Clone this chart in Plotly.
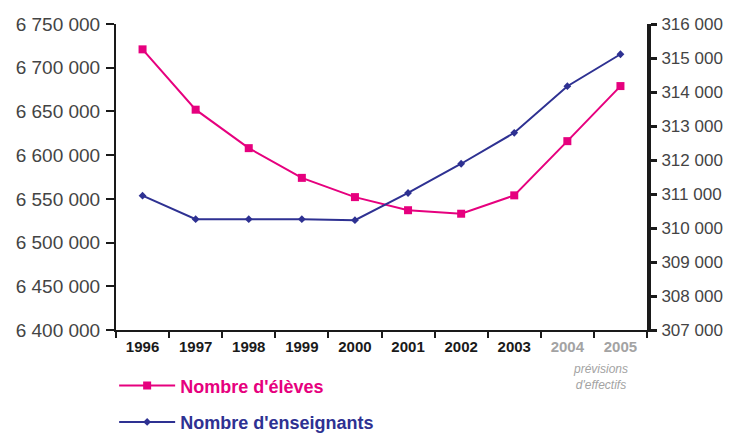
import plotly.graph_objects as go

annees = ["1996", "1997", "1998", "1999", "2000", "2001", "2002", "2003", "2004", "2005"]
eleves = [6721000, 6652000, 6608000, 6574000, 6552000, 6537000, 6533000, 6554000, 6616000, 6679000]
enseignants = [310950, 310260, 310260, 310260, 310230, 311030, 311890, 312800, 314170, 315110]
previsions = ["2004", "2005"]

ROSE = "#e6007e"
MARINE = "#2e3192"
GRIS = "#a3a3a3"
FONT = "Liberation Sans, Arial, sans-serif"

ticktext = [f"<span style='color:{GRIS}'>{a}</span>" if a in previsions else a for a in annees]

fig = go.Figure()
fig.add_trace(go.Scatter(
    x=annees, y=eleves, name=f"<b><span style='color:{ROSE}'>Nombre d'élèves</span></b>",
    mode="lines+markers", line=dict(color=ROSE, width=2),
    marker=dict(symbol="square", size=8, color=ROSE),
    yaxis="y", legendgroup="a"))
fig.add_trace(go.Scatter(
    x=annees, y=enseignants, name=f"<b><span style='color:{MARINE}'>Nombre d'enseignants</span></b>",
    mode="lines+markers", line=dict(color=MARINE, width=2),
    marker=dict(symbol="diamond", size=6, color=MARINE),
    yaxis="y2", legendgroup="b"))

fig.add_annotation(x=8.62, xref="x", y=-0.154, yref="paper", yanchor="middle",
                   text="<i>prévisions<br>d'effectifs</i>", showarrow=False,
                   font=dict(family=FONT, size=12, color=GRIS))

# the page body adds an 8px margin, keep the figure inside the window
fig.update_layout(
    width=726, height=429,
    margin=dict(l=108, r=87, t=16, b=107, autoexpand=False),
    plot_bgcolor="white", paper_bgcolor="white",
    separators=", ",
    font=dict(family=FONT, color="#333333"),
    showlegend=True,
    legend=dict(x=-0.0035, y=-0.122, xanchor="left", yanchor="top",
                font=dict(family=FONT, size=18), tracegroupgap=10,
                traceorder="grouped", itemwidth=56, bgcolor="rgba(0,0,0,0)"),
    xaxis=dict(type="category", tickvals=annees, ticktext=ticktext,
               range=[-0.5, 9.5], showgrid=False, automargin=False,
               showline=True, linecolor="#1a1a1a", linewidth=2,
               ticks="outside", tickson="boundaries", ticklen=6, tickwidth=2,
               tickcolor="#1a1a1a",
               tickfont=dict(family=FONT, size=15, color="#1a1a1a", weight="bold"),
               ticklabelstandoff=2),
    yaxis=dict(range=[6400000, 6750000], dtick=50000, tick0=6400000,
               tickformat=",d", showgrid=False, zeroline=False, automargin=False,
               showline=True, linecolor="#1a1a1a", linewidth=2,
               ticks="outside", ticklen=8, tickwidth=2, tickcolor="#1a1a1a",
               tickfont=dict(family=FONT, size=19, color="#444444"),
               ticklabelstandoff=2),
    yaxis2=dict(range=[307000, 316000], dtick=1000, tick0=307000,
                tickformat=",d", overlaying="y", side="right", automargin=False,
                showgrid=False, zeroline=False,
                showline=True, linecolor="#1a1a1a", linewidth=4,
                ticks="outside", ticklen=6, tickwidth=3, tickcolor="#1a1a1a",
                tickfont=dict(family=FONT, size=17, color="#444444"),
                ticklabelstandoff=1),
)

fig.write_html("out.html")
